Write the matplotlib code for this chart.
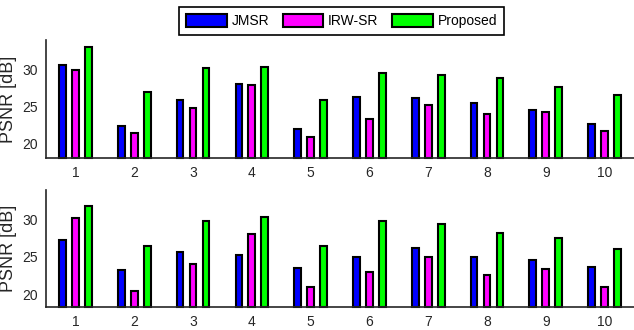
import matplotlib
matplotlib.use("Agg")
import matplotlib.pyplot as plt
import numpy as np

plt.rcParams['font.family'] = ['Liberation Sans', 'DejaVu Sans']

images = ['1', '2', '3', '4', '5', '6', '7', '8', '9', '10']
series = ['JMSR', 'IRW-SR', 'Proposed']
colors = ['#0000ff', '#ff00ff', '#00ff00']

top_jmsr = [30.6, 22.4, 25.9, 28.0, 22.0, 26.3, 26.2, 25.5, 24.5, 22.6]
top_irw = [29.9, 21.4, 24.8, 27.9, 20.9, 23.3, 25.2, 24.0, 24.2, 21.6]
top_prop = [33.0, 26.9, 30.2, 30.4, 25.9, 29.5, 29.2, 28.9, 27.6, 26.5]

bot_jmsr = [27.2, 23.3, 25.6, 25.3, 23.5, 25.0, 26.2, 25.0, 24.6, 23.7]
bot_irw = [30.1, 20.5, 24.1, 28.0, 21.1, 23.0, 25.0, 22.6, 23.4, 21.0]
bot_prop = [31.7, 26.4, 29.8, 30.2, 26.5, 29.8, 29.3, 28.1, 27.5, 26.1]

fig = plt.figure(figsize=(6.34, 3.30), dpi=100)
txtc = '#262626'

def draw(ax, data, ylim):
    x = np.arange(1, len(images) + 1)
    offs = [-0.22, 0.0, 0.22]
    handles = []
    for vals, off, c, name in zip(data, offs, colors, series):
        h = ax.bar(x + off, np.array(vals) - ylim[0], bottom=ylim[0], width=0.115,
                   color=c, edgecolor='black', linewidth=1.5, label=name,
                   clip_on=False)
        handles.append(h)
    ax.set_xlim(0.5, 10.5)
    ax.set_ylim(*ylim)
    ax.set_xticks(x)
    ax.set_xticklabels(images)
    ax.set_yticks([20, 25, 30])
    ax.tick_params(length=0, labelsize=10, colors=txtc, pad=6)
    ax.spines['top'].set_visible(False)
    ax.spines['right'].set_visible(False)
    for s in ['left', 'bottom']:
        ax.spines[s].set_color(txtc)
        ax.spines[s].set_linewidth(1.2)
    ax.set_ylabel('PSNR [dB]', fontsize=13, color=txtc, labelpad=4)
    return handles

ax1 = fig.add_axes([0.0726, 0.521, 0.9274, 0.358])
h = draw(ax1, [top_jmsr, top_irw, top_prop], (18, 34))
ax2 = fig.add_axes([0.0726, 0.0697, 0.9274, 0.354])
draw(ax2, [bot_jmsr, bot_irw, bot_prop], (18.4, 33.8))

leg = fig.legend(handles=h, labels=series, loc='upper center',
                 bbox_to_anchor=(0.539, 1.0), ncol=3, fontsize=10,
                 handlelength=2.9, handleheight=1.1, handletextpad=0.35,
                 columnspacing=1.0, borderpad=0.5, fancybox=False,
                 framealpha=1, edgecolor='black')
leg.get_frame().set_linewidth(1.2)
for t in leg.get_texts():
    t.set_color('black')

fig.savefig('out.png', dpi=100)
